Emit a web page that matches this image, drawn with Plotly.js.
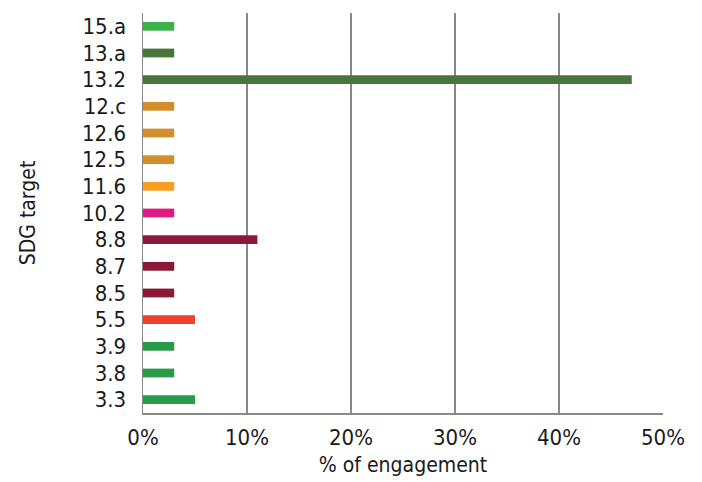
<!DOCTYPE html>
<html><head><meta charset="utf-8">
<script src="https://cdn.plot.ly/plotly-3.0.1.min.js"></script>
<style>html,body{margin:0;padding:0;background:#fff}#chart{width:702px;height:482px}</style>
</head><body><div id="chart"></div>
<script>
const targets = ['3.3','3.8','3.9','5.5','8.5','8.7','8.8','10.2','11.6','12.5','12.6','12.c','13.2','13.a','15.a'];
const engagement = [5, 3, 3, 5, 3, 3, 11, 3, 3, 3, 3, 3, 47, 3, 3];
const barColors = ['#279b48','#279b48','#279b48','#ef402c','#8c1838','#8c1838','#8c1838','#e11a85','#f99d25','#d18f2c','#d18f2c','#d18f2c','#48773c','#48773c','#3eb049'];
const xTicks = [0, 10, 20, 30, 40, 50];
const xTickLabels = ['0%','10%','20%','30%','40%','50%'];

const font = "'DejaVu Sans Condensed', 'Noto Sans', sans-serif";
Plotly.newPlot('chart', [{
  type: 'bar', orientation: 'h',
  y: targets, x: engagement,
  marker: {color: barColors},
  width: 0.33,
  hoverinfo: 'skip'
}], {
  width: 702, height: 482,
  margin: {l: 143, r: 39, t: 13, b: 69},
  paper_bgcolor: '#fff', plot_bgcolor: '#fff',
  font: {family: font, size: 22, color: '#1a1a1a'},
  showlegend: false,
  xaxis: {
    range: [0, 50], tickvals: xTicks, ticktext: xTickLabels,
    showgrid: true, gridcolor: '#888', gridwidth: 1.5,
    zeroline: false, showline: true, linecolor: '#888', linewidth: 1.5,
    ticks: '', ticklabelstandoff: 4,
    title: {text: '% of engagement', standoff: 8, font: {size: 21}}
  },
  yaxis: {
    type: 'category', categoryorder: 'array', categoryarray: targets,
    showgrid: false, zeroline: false, showline: true, linecolor: '#888', linewidth: 1.5,
    ticks: '', ticklabelstandoff: 11,
    title: {text: 'SDG target', standoff: 40, font: {size: 21}}
  }
}, {displayModeBar: false, staticPlot: true});
</script></body></html>
